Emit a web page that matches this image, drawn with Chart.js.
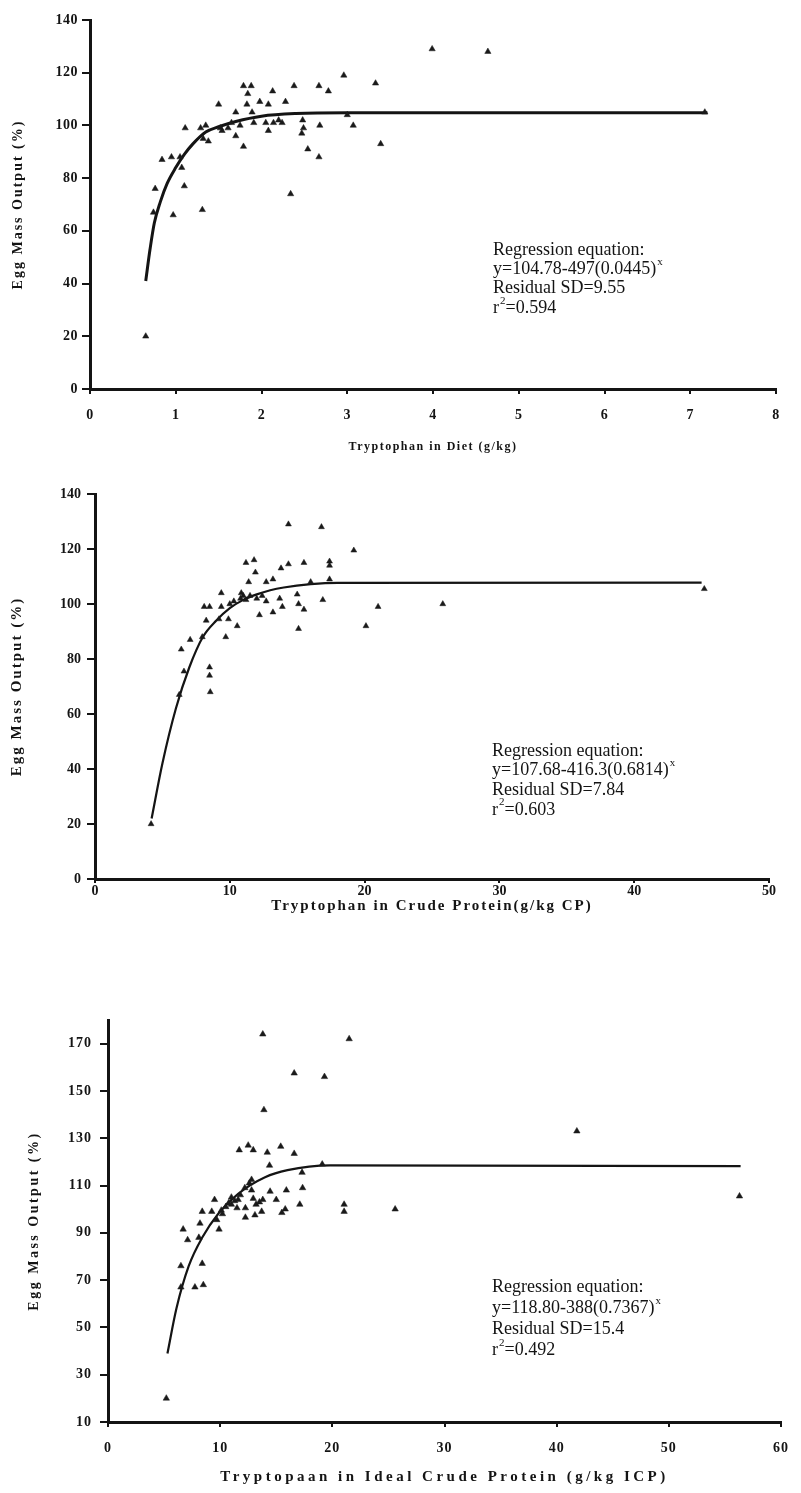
<!DOCTYPE html>
<html><head><meta charset="utf-8">
<script src="https://cdn.jsdelivr.net/npm/chart.js@4.4.1/dist/chart.umd.min.js"></script>
<style>
html,body{margin:0;padding:0;background:#fff;width:801px;height:1493px;overflow:hidden}
canvas{position:absolute;left:0}
</style></head><body>
<canvas id="c1" width="801" height="470" style="top:0"></canvas>
<canvas id="c2" width="801" height="460" style="top:470px"></canvas>
<canvas id="c3" width="801" height="563" style="top:930px"></canvas>
<script>
// ---------- Chart 1: Tryptophan in Diet ----------
const DIET_X = [0.65,0.74,0.76,0.84,0.95,0.97,1.05,1.07,1.10,1.11,1.29,1.31,1.32,1.35,1.38,1.50,1.52,1.54,1.61,1.65,1.70,1.70,1.75,1.79,1.79,1.83,1.84,1.88,1.89,1.91,1.98,2.05,2.08,2.08,2.13,2.14,2.20,2.24,2.28,2.34,2.38,2.48,2.47,2.49,2.54,2.67,2.67,2.68,2.78,2.96,3.00,3.07,3.33,3.39,3.99,4.64,7.17];
const DIET_Y = [20,67,76,87,88,66,88,84,77,99,99,68,95,100,94,108,99,98,99,101,105,96,100,92,115,108,112,115,105,101,109,101,108,98,113,101,102,101,109,74,115,102,97,99,91,115,88,100,113,119,104,100,116,93,129,128,105];
const DIET_FIT_X = [0.65,0.70,0.75,0.82,0.90,1.0,1.1,1.2,1.35,1.5,1.7,2.0,2.4,3.0,7.2];
const DIET_FIT_Y = [41,53,63,71,78,84,89,93,97.5,99.5,101.5,103.5,104.5,104.8,104.8];
const DIET_X_TICKS = [0,1,2,3,4,5,6,7,8];
const DIET_Y_TICKS = [0,20,40,60,80,100,120,140];

// ---------- Chart 2: Tryptophan in Crude Protein ----------
const CP_X = [4.16,6.25,6.4,6.6,7.06,7.96,8.25,8.1,8.5,8.5,8.5,8.55,9.37,9.37,9.2,9.7,9.9,10.0,10.3,10.55,10.8,10.85,11.0,11.2,11.4,11.2,11.5,11.8,11.9,12.0,12.2,12.4,12.7,13.2,12.7,13.2,13.8,13.7,13.9,14.35,14.35,15.0,15.1,15.1,15.5,15.5,16.0,16.8,16.9,17.4,17.4,17.4,19.2,20.1,21.0,25.8,45.2];
const CP_Y = [20,67,83.5,75.5,87,88,94,99,99,77,74,68,104,99,94.5,88,94.5,100,101,92,102,104,103,115,108,101.5,103,116,111.5,102,96,103,108,109,101,97,113,102,99,129,114.5,103.5,100,91,98,115,108,128,101.5,115.5,114,109,119.5,92,99,100,105.5];
const CP_FIT_X = [4.2,5,6,7,8,9,10,11,12,13,14,16,18,45];
const CP_FIT_Y = [22,42,62,77,88,94,98.5,101.5,103.5,105,106,107.2,107.7,107.8];
const CP_X_TICKS = [0,10,20,30,40,50];
const CP_Y_TICKS = [0,20,40,60,80,100,120,140];

// ---------- Chart 3: Tryptophan in Ideal Crude Protein ----------
const ICP_X = [5.2,6.7,7.1,6.5,6.5,7.75,8.5,8.4,8.4,8.2,8.1,9.5,9.7,9.9,9.25,10.1,10.2,10.5,10.75,11.0,11.0,11.3,11.5,11.6,11.7,11.8,12.2,12.5,12.6,12.95,12.25,12.25,12.8,12.8,12.95,13.1,13.2,13.5,13.8,13.9,13.8,13.7,14.2,14.4,14.45,15.0,15.4,15.5,15.9,15.8,16.6,16.6,17.1,17.3,17.35,19.1,19.3,21.05,21.05,21.5,25.6,41.8,56.3];
const ICP_Y = [20,91.5,87,76,67,67,68,77,99,94,88,104,95.5,91.5,99,99.5,98,101,102.5,105,102,103.5,100.5,104,125,106,109,127,111,125,100.5,96.5,112.5,108,104.5,97.5,102,103,174,142,104,99,124,118.5,107.5,104,126.5,98.5,108,100,157.5,123.5,102,115.5,109,119,156,102,99,172,100,133,105.5];
const ICP_FIT_X = [5.3,6.1,7.2,8.4,9.9,11.6,14,16,19.8,56.4];
const ICP_FIT_Y = [39,58,76,88,98.5,106.5,113.5,116.5,118.5,118.2];
const ICP_X_TICKS = [0,10,20,30,40,50,60];
const ICP_Y_TICKS = [10,30,50,70,90,110,130,150,170];

const zip = (xs, ys) => xs.map((x, i) => ({x: x, y: ys[i]}));
const INK = '#141414';
const SERIF = "'Liberation Serif', 'DejaVu Serif', serif";

// letter spacing for tick labels / titles of a scale
function spaced(s, labLs, titleLs) {
  if (s.__spaced) return;
  s.__spaced = true;
  const dl = s.drawLabels, dt = s.drawTitle;
  s.drawLabels = function (a) { const c = this.ctx, p = c.letterSpacing; c.letterSpacing = labLs; dl.call(this, a); c.letterSpacing = p; };
  s.drawTitle = function () { const c = this.ctx, p = c.letterSpacing; c.letterSpacing = titleLs; dt.call(this); c.letterSpacing = p; };
}

const notePlugin = {
  id: 'note',
  afterDraw(chart, args, o) {
    const ctx = chart.ctx;
    ctx.save();
    ctx.letterSpacing = '0px';
    ctx.fillStyle = INK;
    ctx.textBaseline = 'middle';
    ctx.textAlign = 'left';
    o.lines.forEach((ln, i) => {
      const y = o.y0 + i * o.dy;
      let x = o.x;
      ctx.font = o.size + 'px ' + SERIF;
      ctx.fillText(ln.t, x, y);
      x += ctx.measureText(ln.t).width;
      if (ln.sup) {
        ctx.font = Math.round(o.size * 0.6) + 'px ' + SERIF;
        ctx.fillText(ln.sup, x + 1, y - o.size * 0.4);
        x += ctx.measureText(ln.sup).width + 1;
      }
      if (ln.after) {
        ctx.font = o.size + 'px ' + SERIF;
        ctx.fillText(ln.after, x, y);
      }
    });
    ctx.restore();
  }
};

function build(id, o) {
  return new Chart(document.getElementById(id), {
    type: 'scatter',
    data: {datasets: [
      {type: 'line', data: zip(o.fitX, o.fitY), borderColor: INK, borderWidth: o.fitW,
       pointRadius: 0, fill: false, cubicInterpolationMode: 'monotone', order: 2},
      {type: 'scatter', data: zip(o.x, o.y), pointStyle: 'triangle', pointRadius: o.r,
       backgroundColor: '#1a1a1a', borderColor: '#1a1a1a', borderWidth: 0.5, order: 1}
    ]},
    options: {
      responsive: false, animation: false, events: [],
      layout: {padding: {left: 0, top: o.padTop, right: o.padRight, bottom: 0}},
      plugins: {legend: {display: false}, tooltip: {enabled: false}, note: o.note},
      scales: {
        x: {
          type: 'linear', min: o.xMin, max: o.xMax,
          afterBuildTicks: s => { s.ticks = o.xTicks.map(v => ({value: v})); },
          afterFit: s => { s.height = o.xH; spaced(s, o.tickLs, o.xTitleLs); },
          ticks: {color: INK, padding: o.xTickPad, font: {family: SERIF, size: o.tickSize, weight: 'bold'}, maxRotation: 0, autoSkip: false},
          grid: {display: true, drawOnChartArea: false, drawTicks: true, tickLength: o.xTickLen, color: INK, lineWidth: 2},
          border: {display: true, color: INK, width: o.axW},
          title: {display: true, text: o.xTitle, color: INK, font: {family: SERIF, size: o.xTitleSize, weight: 'bold'}, padding: {top: 0, bottom: o.xTitlePad}}
        },
        y: {
          type: 'linear', min: o.yMin, max: o.yMax,
          afterBuildTicks: s => { s.ticks = o.yTicks.map(v => ({value: v})); },
          afterFit: s => { s.width = o.yW; spaced(s, o.tickLs, o.yTitleLs); },
          ticks: {color: INK, padding: o.yTickPad, font: {family: SERIF, size: o.tickSize, weight: 'bold'}, autoSkip: false},
          grid: {display: true, drawOnChartArea: false, drawTicks: true, tickLength: 8, color: INK, lineWidth: 2},
          border: {display: true, color: INK, width: o.axW},
          title: {display: true, text: 'Egg Mass Output (%)', color: INK, font: {family: SERIF, size: o.yTitleSize, weight: 'bold'}, padding: {top: o.yTitlePad, bottom: 0}}
        }
      }
    },
    plugins: [notePlugin]
  });
}

build('c1', {
  x: DIET_X, y: DIET_Y, fitX: DIET_FIT_X, fitY: DIET_FIT_Y, fitW: 3, r: 3.6,
  xMin: 0, xMax: 8, yMin: 0, yMax: 140, xTicks: DIET_X_TICKS, yTicks: DIET_Y_TICKS,
  padTop: 20, padRight: 25, xH: 81, yW: 90, axW: 3,
  tickSize: 14, tickLs: '0.5px', xTickLen: 5, xTickPad: 13, yTickPad: 4,
  xTitle: 'Tryptophan in Diet (g/kg)', xTitleSize: 12, xTitlePad: 16, xTitleLs: '1.5px',
  yTitleSize: 14, yTitlePad: 10, yTitleLs: '2px',
  note: {x: 493, y0: 250, dy: 19.3, size: 18, lines: [
    {t: 'Regression equation:'},
    {t: 'y=104.78-497(0.0445)', sup: 'x'},
    {t: 'Residual SD=9.55'},
    {t: 'r', sup: '2', after: '=0.594'}
  ]}
});

build('c2', {
  x: CP_X, y: CP_Y, fitX: CP_FIT_X, fitY: CP_FIT_Y, fitW: 2.2, r: 3.4,
  xMin: 0, xMax: 50, yMin: 0, yMax: 140, xTicks: CP_X_TICKS, yTicks: CP_Y_TICKS,
  padTop: 24, padRight: 32, xH: 51, yW: 95, axW: 3,
  tickSize: 14, tickLs: '0px', xTickLen: 4, xTickPad: 0, yTickPad: 6,
  xTitle: 'Tryptophan in Crude Protein(g/kg CP)', xTitleSize: 15, xTitlePad: 15, xTitleLs: '2px',
  yTitleSize: 15, yTitlePad: 8, yTitleLs: '2px',
  note: {x: 492, y0: 281, dy: 19.6, size: 18, lines: [
    {t: 'Regression equation:'},
    {t: 'y=107.68-416.3(0.6814)', sup: 'x'},
    {t: 'Residual SD=7.84'},
    {t: 'r', sup: '2', after: '=0.603'}
  ]}
});

build('c3', {
  x: ICP_X, y: ICP_Y, fitX: ICP_FIT_X, fitY: ICP_FIT_Y, fitW: 2.2, r: 3.7,
  xMin: 0, xMax: 60, yMin: 10, yMax: 180, xTicks: ICP_X_TICKS, yTicks: ICP_Y_TICKS,
  padTop: 90, padRight: 12, xH: 71, yW: 108, axW: 3,
  tickSize: 14, tickLs: '1px', xTickLen: 5, xTickPad: 13, yTickPad: 8,
  xTitle: 'Tryptopaan in Ideal Crude Protein (g/kg ICP)', xTitleSize: 15, xTitlePad: 7, xTitleLs: '3.5px',
  yTitleSize: 14, yTitlePad: 26, yTitleLs: '2.5px',
  note: {x: 492, y0: 357, dy: 21, size: 18, lines: [
    {t: 'Regression equation:'},
    {t: 'y=118.80-388(0.7367)', sup: 'x'},
    {t: 'Residual SD=15.4'},
    {t: 'r', sup: '2', after: '=0.492'}
  ]}
});
</script>
</body></html>
